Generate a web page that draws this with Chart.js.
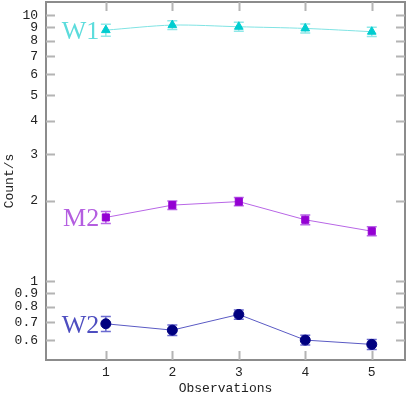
<!DOCTYPE html>
<html>
<head>
<meta charset="utf-8">
<script src="https://cdn.jsdelivr.net/npm/chart.js@4.4.1/dist/chart.umd.min.js"></script>
<style>
  html, body { margin: 0; padding: 0; background: #fff; }
  #wrap { width: 407px; height: 396px; }
</style>
</head>
<body>
<div id="wrap"><canvas id="grafico"></canvas></div>
<script>
    // DADOS
    const observacoes = [1, 2, 3, 4, 5]
    const nomesSeries = ['W1', 'M2', 'W2']
    const valoresW1 = [8.78, 9.17, 9.04, 8.91, 8.66]
    const errosW1 = [0.45, 0.35, 0.35, 0.35, 0.35]
    const valoresM2 = [1.735, 1.93, 1.99, 1.70, 1.54]
    const errosM2 = [0.09, 0.07, 0.07, 0.07, 0.06]
    const valoresW2 = [0.691, 0.654, 0.749, 0.600, 0.578]
    const errosW2 = [0.045, 0.03, 0.03, 0.025, 0.025]
    const ticksY = [0.6, 0.7, 0.8, 0.9, 1, 2, 3, 4, 5, 6, 7, 8, 9, 10]
    const ticksX = [1, 2, 3, 4, 5]

    const fonteMono = 'Liberation Mono'

    function pontos(valores) {
        return observacoes.map((x, i) => ({ x: x, y: valores[i] }))
    }

    var dadosGrafico = {
        datasets: [
            {
                label: nomesSeries[0],
                data: pontos(valoresW1),
                erros: errosW1,
                borderColor: '#7fe3e3',
                backgroundColor: '#00cdd0',
                pointBorderColor: '#00cdd0',
                corErro: '#8fe8e8',
                corNome: '#5cdcdc',
                borderWidth: 1,
                pointStyle: 'triangle',
                pointRadius: 5,
                tension: 0.3,
            },
            {
                label: nomesSeries[1],
                data: pontos(valoresM2),
                erros: errosM2,
                borderColor: '#b866e6',
                backgroundColor: '#9400d3',
                pointBorderColor: '#9400d3',
                corErro: '#b866e6',
                corNome: '#b45ee0',
                borderWidth: 1,
                pointStyle: 'rect',
                pointRadius: 5,
                tension: 0,
            },
            {
                label: nomesSeries[2],
                data: pontos(valoresW2),
                erros: errosW2,
                borderColor: '#5a5ac4',
                backgroundColor: '#000080',
                pointBorderColor: '#000080',
                corErro: '#6a6ad0',
                corNome: '#4e4ec0',
                borderWidth: 1,
                pointStyle: 'circle',
                pointRadius: 5,
                tension: 0,
            }
        ]
    };

    // moldura, barras de erro e nomes das series
    const pluginErros = {
        id: 'erros',
        beforeDatasetsDraw(chart) {
            const ctx = chart.ctx
            const sx = chart.scales.x, sy = chart.scales.y
            const area = chart.chartArea
            ctx.save()
            // moldura
            ctx.strokeStyle = '#8c8c8c'
            ctx.lineWidth = 2
            ctx.strokeRect(area.left, area.top, area.right - area.left, area.bottom - area.top)
            // marcas internas
            ctx.strokeStyle = '#b4b4b4'
            ctx.lineWidth = 2
            ctx.beginPath()
            ticksY.forEach(v => {
                const y = Math.round(sy.getPixelForValue(v)) + 0.5
                ctx.moveTo(area.left, y); ctx.lineTo(area.left + 9, y)
                ctx.moveTo(area.right, y); ctx.lineTo(area.right - 9, y)
            })
            ticksX.forEach(v => {
                const x = Math.round(sx.getPixelForValue(v)) + 0.5
                ctx.moveTo(x, area.bottom); ctx.lineTo(x, area.bottom - 9)
                ctx.moveTo(x, area.top); ctx.lineTo(x, area.top + 9)
            })
            ctx.stroke()

            chart.data.datasets.forEach(ds => {
                ctx.strokeStyle = ds.corErro
                ctx.lineWidth = 1.5
                ctx.beginPath()
                ds.data.forEach((p, i) => {
                    const x = sx.getPixelForValue(p.x)
                    const y1 = sy.getPixelForValue(p.y + ds.erros[i])
                    const y2 = sy.getPixelForValue(p.y - ds.erros[i])
                    ctx.moveTo(x, y1); ctx.lineTo(x, y2)
                    ctx.moveTo(x - 5, y1); ctx.lineTo(x + 5, y1)
                    ctx.moveTo(x - 5, y2); ctx.lineTo(x + 5, y2)
                })
                ctx.stroke()
                // nome
                ctx.fillStyle = ds.corNome
                ctx.font = '26px "Liberation Serif"'
                ctx.textAlign = 'right'
                ctx.textBaseline = 'middle'
                ctx.fillText(ds.label, sx.getPixelForValue(0.9), sy.getPixelForValue(ds.data[0].y) + 2)
            })
            ctx.restore()
        }
    }

    var grafico = new Chart(document.getElementById('grafico'), {
        type: 'line',
        data: dadosGrafico,
        plugins: [pluginErros],
        options: {
            animation: false,
            responsive: true,
            maintainAspectRatio: false,
            layout: { autoPadding: false, padding: { top: 2, right: 2, left: 0, bottom: 0 } },
            plugins: {
                legend: { display: false },
                tooltip: { enabled: false }
            },
            scales: {
                x: {
                    type: 'linear',
                    min: 0.1,
                    max: 5.5,
                    afterBuildTicks: s => { s.ticks = ticksX.map(v => ({ value: v })) },
                    afterFit: s => { s.height = 36; s.paddingLeft = 0; s.paddingRight = 0 },
                    grid: { display: false, drawTicks: false },
                    border: { display: false },
                    ticks: {
                        padding: 5,
                        color: '#222',
                        font: { family: fonteMono, size: 13 },
                        maxRotation: 0,
                        callback: v => String(v)
                    },
                    title: {
                        display: true,
                        text: 'Observations',
                        color: '#222',
                        font: { family: fonteMono, size: 13 },
                        padding: { top: 0, bottom: 0 }
                    }
                },
                y: {
                    type: 'logarithmic',
                    min: 0.505,
                    max: 11.2,
                    afterBuildTicks: s => { s.ticks = ticksY.map(v => ({ value: v })) },
                    afterFit: s => { s.width = 46; s.paddingTop = 0; s.paddingBottom = 0 },
                    grid: { display: false, drawTicks: false },
                    border: { display: false },
                    ticks: {
                        padding: 8,
                        color: '#222',
                        font: { family: fonteMono, size: 13 },
                        autoSkip: false,
                        callback: v => String(v)
                    },
                    title: {
                        display: true,
                        text: 'Count/s',
                        color: '#222',
                        font: { family: fonteMono, size: 13 },
                        padding: { top: 2, bottom: 0 }
                    }
                }
            }
        }
    });
</script>
</body>
</html>
